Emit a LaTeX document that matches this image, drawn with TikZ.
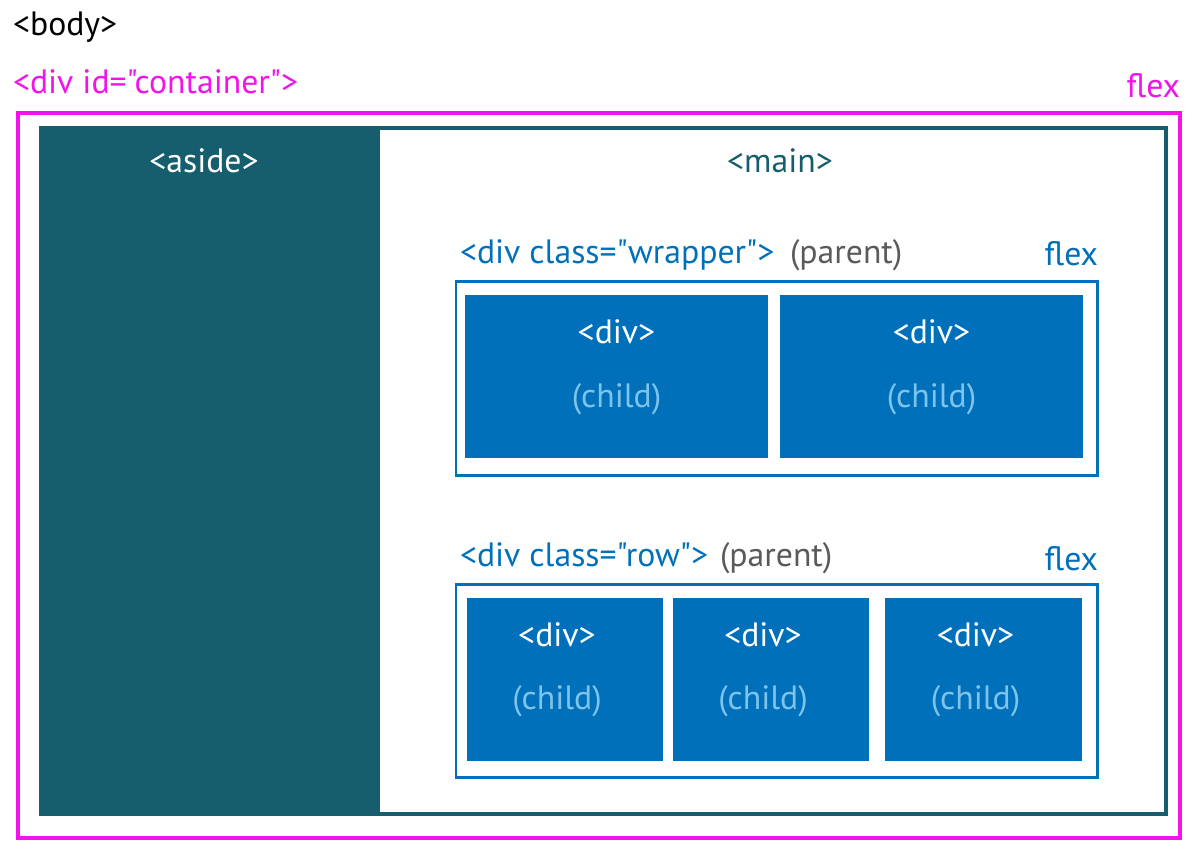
\documentclass[tikz,border=0pt]{standalone}
\usepackage{fontspec}
\setmainfont{PT Sans}[Ligatures=TeXOff]
\definecolor{pinkflex}{HTML}{F014EA}
\definecolor{tealbox}{HTML}{165E6E}
\definecolor{bluebox}{HTML}{0070BA}
\definecolor{childtxt}{HTML}{7DC4EC}
\definecolor{parenttxt}{HTML}{5A5A5A}
\begin{document}
\begin{tikzpicture}[x=0.02cm, y=-0.02cm,
    every node/.style={font=\fontsize{19.2}{22}\selectfont, inner sep=0pt, outer sep=0pt},
    childbox/.style={fill=bluebox, minimum height=163*0.02cm},
    parentbox/.style={draw=bluebox, line width=1.7pt},
    tag/.style={anchor=base, text=white}]
  \useasboundingbox (0,0) rectangle (1200,866);

  % Page level
  \node[anchor=base west] (body) at (13,35) {<body>};
  \node[anchor=base west, text=pinkflex] (containerlbl) at (13,93) {<div id="container">};
  \node[anchor=base east, text=pinkflex] (flexa) at (1180,97) {flex};
  \draw[pinkflex, line width=2.3pt] (18,113) rectangle (1180,838);

  % Aside and main
  \fill[tealbox] (40,126) rectangle (380,816);
  \draw[tealbox, line width=2.3pt] (41,128) rectangle (1166,814);
  \node[tag] (aside) at (204,172) {<aside>};
  \node[anchor=base, text=tealbox] (main) at (780,172) {<main>};

  % Wrapper (two children)
  \node[anchor=base west, text=bluebox] (wrapperlbl) at (460,263) {<div class="wrapper">};
  \node[anchor=base west, text=parenttxt] (parenta) at (790,263) {(parent)};
  \node[anchor=base east, text=bluebox] (flexb) at (1098,265) {flex};
  \draw[parentbox] (456,281) rectangle (1097,475);
  \node[childbox, minimum width=303*0.02cm] (w1) at (616.5,376.5) {};
  \node[childbox, minimum width=303*0.02cm] (w2) at (931.5,376.5) {};
  \foreach \c in {w1,w2} {
    \path (\c.north) ++(0,48) node[tag] {<div>};
    \path (\c.north) ++(0,112) node[tag, text=childtxt] {(child)};
  }

  % Row (three children)
  \node[anchor=base west, text=bluebox] (rowlbl) at (460,566) {<div class="row">};
  \node[anchor=base west, text=parenttxt] (parentb) at (720,566) {(parent)};
  \node[anchor=base east, text=bluebox] (flexc) at (1098,570) {flex};
  \draw[parentbox] (456,584) rectangle (1097,777);
  \node[childbox, minimum width=196*0.02cm] (r1) at (565,679.5) {};
  \node[childbox, minimum width=196*0.02cm] (r2) at (771,679.5) {};
  \node[childbox, minimum width=197*0.02cm] (r3) at (983.5,679.5) {};
  \foreach \c in {r1,r2,r3} {
    \path (\c.north) ++(-8,48) node[tag] {<div>};
    \path (\c.north) ++(-8,111) node[tag, text=childtxt] {(child)};
  }
\end{tikzpicture}
\end{document}
